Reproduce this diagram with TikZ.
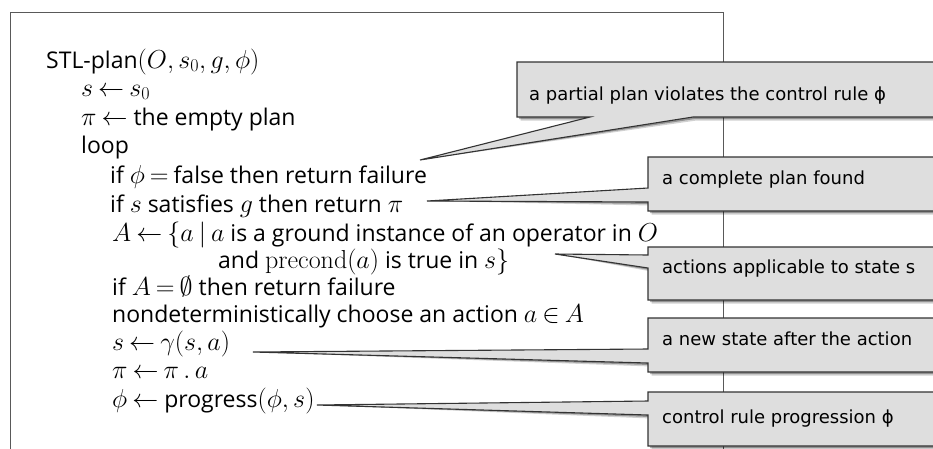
\RequirePackage{fix-cm}
\documentclass[tikz,border=0pt]{standalone}
\usepackage{amsmath,amssymb}
\usepackage{fontspec}
\newfontfamily\algfont{Open Sans}
\newfontfamily\callfont{DejaVu Sans}
\DeclareMathSizes{23}{26}{18}{14}
\thickmuskip=3.5mu plus 2mu
\medmuskip=3mu plus 1mu minus 1mu
\usetikzlibrary{calc}
\tikzset{
  algline/.style={anchor=base west, inner sep=0pt, font=\algfont\fontsize{23}{28}\selectfont},
  calltext/.style={anchor=base west, inner sep=0pt, font=\callfont\fontsize{18}{22}\selectfont},
  callbox/.style={draw=black!80, fill=black!13, line width=1.1pt, line join=miter},
  frame/.style={draw=black!65, line width=1pt}
}
\newcommand{\leftcallout}[5]{%
  \foreach \s/\o in {3.5/0.18,2/0.3}{%
    \fill[black,opacity=\o,shift={(\s,\s)}] (648,#1) -- (935,#1) -- (935,#2) -- (648,#2) -- (648,#4) -- (#5) -- (648,#3) -- cycle;}
  \draw[callbox] (648,#1) -- (935,#1) -- (935,#2) -- (648,#2) -- (648,#4) -- (#5) -- (648,#3) -- cycle;}
\begin{document}
\begin{tikzpicture}[x=1pt,y=-1pt]
\useasboundingbox (0,0) rectangle (933,448);
\draw[frame] (10,12) rectangle (723,470);

\node[algline] (l1) at (46,68) {STL-plan$(O, s_0, g, \phi)$};
\node[algline] (l2) at (81,96) {$s \leftarrow s_0$};
\node[algline] (l3) at (81,125) {$\pi \leftarrow$ the empty plan};
\node[algline] (l4) at (81,153) {loop};
\node[algline] (l5) at (110,183) {if $\phi = \text{false}$ then return failure};
\node[algline] (l6) at (110,212) {if $s$ satisfies $g$ then return $\pi$};
\node[algline] (l7) at (112,241) {$A \leftarrow \{a \mid a$ is a ground instance of an operator in $O$};
\node[algline] (l8) at (218,268) {and $\mathrm{precond}(a)$ is true in $s\}$};
\node[algline] (l9) at (112,295) {if $A = \emptyset$ then return failure};
\node[algline] (l10) at (112,322) {nondeterministically choose an action $a \in A$};
\node[algline] (l11) at (112,350) {$s \leftarrow \gamma(s, a)$};
\node[algline] (l12) at (112,378) {$\pi \leftarrow \pi\,.\,a$};
\node[algline] (l13) at (112,407) {$\phi \leftarrow$ progress$(\phi, s)$};

\coordinate (t1) at (420,160);
\coordinate (t2) at (427,201);
\coordinate (t3) at (555,254);
\coordinate (t4) at (253,352);
\coordinate (t5) at (317,405);

\foreach \s/\o in {3.5/0.18,2/0.3}{%
  \fill[black,opacity=\o,shift={(\s,\s)}] (517,62) -- (935,62) -- (935,117) -- (693,117) -- (t1) -- (590,117) -- (517,117) -- cycle;}
\draw[callbox] (517,62) -- (935,62) -- (935,117) -- (693,117) -- (t1) -- (590,117) -- (517,117) -- cycle;
\node[calltext] (c1) at (529,100) {a partial plan violates the control rule ϕ};

\leftcallout{157}{211}{188}{202}{t2}
\node[calltext] (c2) at (662,184) {a complete plan found};

\leftcallout{247}{300}{255}{268}{t3}
\node[calltext] (c3) at (662,273) {actions applicable to state s};

\leftcallout{318}{372}{349}{363}{t4}
\node[calltext] (c4) at (662,345) {a new state after the action};

\leftcallout{392}{446}{401}{415}{t5}
\node[calltext] (c5) at (662,423) {control rule progression ϕ};
\end{tikzpicture}
\end{document}
